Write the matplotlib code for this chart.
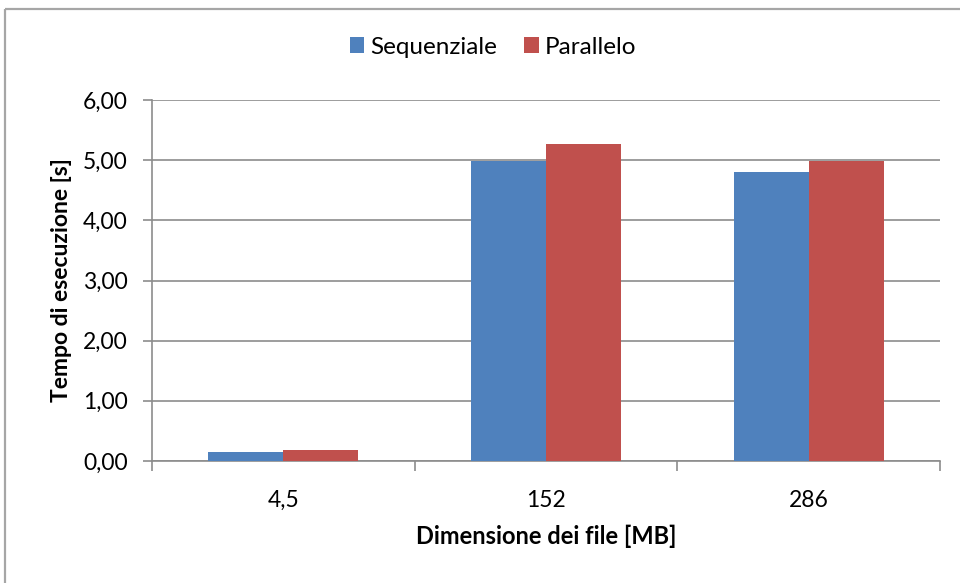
import matplotlib.pyplot as plt
import matplotlib.patches as patches
import numpy as np

# execution times in seconds for each file size
dimensioni = ["4,5", "152", "286"]
sequenziale = [0.15, 4.99, 4.81]
parallelo = [0.18, 5.27, 4.99]
yticks = [0, 1, 2, 3, 4, 5, 6]
ytick_labels = ["0,00", "1,00", "2,00", "3,00", "4,00", "5,00", "6,00"]

BLUE = "#4F81BD"
RED = "#C0504D"
GRID = "#8C8C8C"

plt.rcParams['font.family'] = ['Lato', 'DejaVu Sans']

fig = plt.figure(figsize=(9.6, 5.83), dpi=100)
W, H = 960, 583

# outer chart border, runs off the right and bottom edges
fig.patches.append(patches.Rectangle((5 / W, 1 - 9 / H), 2, -2,
                                     transform=fig.transFigure, fill=False,
                                     edgecolor="#A6A6A6", linewidth=1.6))

ax = fig.add_axes([152 / W, 1 - 461 / H, (940 - 152) / W, (461 - 100) / H])

x = np.arange(len(dimensioni))
w = 1 / 3.5
ax.bar(x - w / 2, sequenziale, w, color=BLUE, label="Sequenziale", zorder=3)
ax.bar(x + w / 2, parallelo, w, color=RED, label="Parallelo", zorder=3)

ax.set_xlim(-0.5, 2.5)
ax.set_ylim(0, 6)
ax.set_yticks(yticks)
ax.set_yticklabels(ytick_labels)
ax.yaxis.grid(True, color=GRID, linewidth=1.2, zorder=0)

# category ticks sit on the boundaries between groups
ax.set_xticks([-0.5, 0.5, 1.5, 2.5])
ax.set_xticklabels([])
ax.set_xticks(x, minor=True)
ax.set_xticklabels(dimensioni, minor=True)
ax.tick_params(axis='x', which='minor', length=0, pad=21, labelsize=16.5)
ax.tick_params(axis='x', which='major', length=7, width=1.2, color=GRID)
ax.tick_params(axis='y', length=6.5, width=1.2, color=GRID, pad=11, labelsize=16.5)

for side in ["top", "right"]:
    ax.spines[side].set_visible(False)
for side in ["left", "bottom"]:
    ax.spines[side].set_color(GRID)
    ax.spines[side].set_linewidth(1.2)

ax.set_ylabel("Tempo di esecuzione [s]", fontsize=16.5, fontweight="bold", labelpad=8)
ax.set_xlabel("Dimensione dei file [MB]", fontsize=17, fontweight="bold", labelpad=10)

fig.legend(loc="center", bbox_to_anchor=(493 / W, 1 - 47 / H), ncol=2,
           frameon=False, fontsize=17.5, handlelength=0.6, handleheight=0.6,
           handletextpad=0.25, columnspacing=1.1)

fig.savefig("out.png", dpi=100)
